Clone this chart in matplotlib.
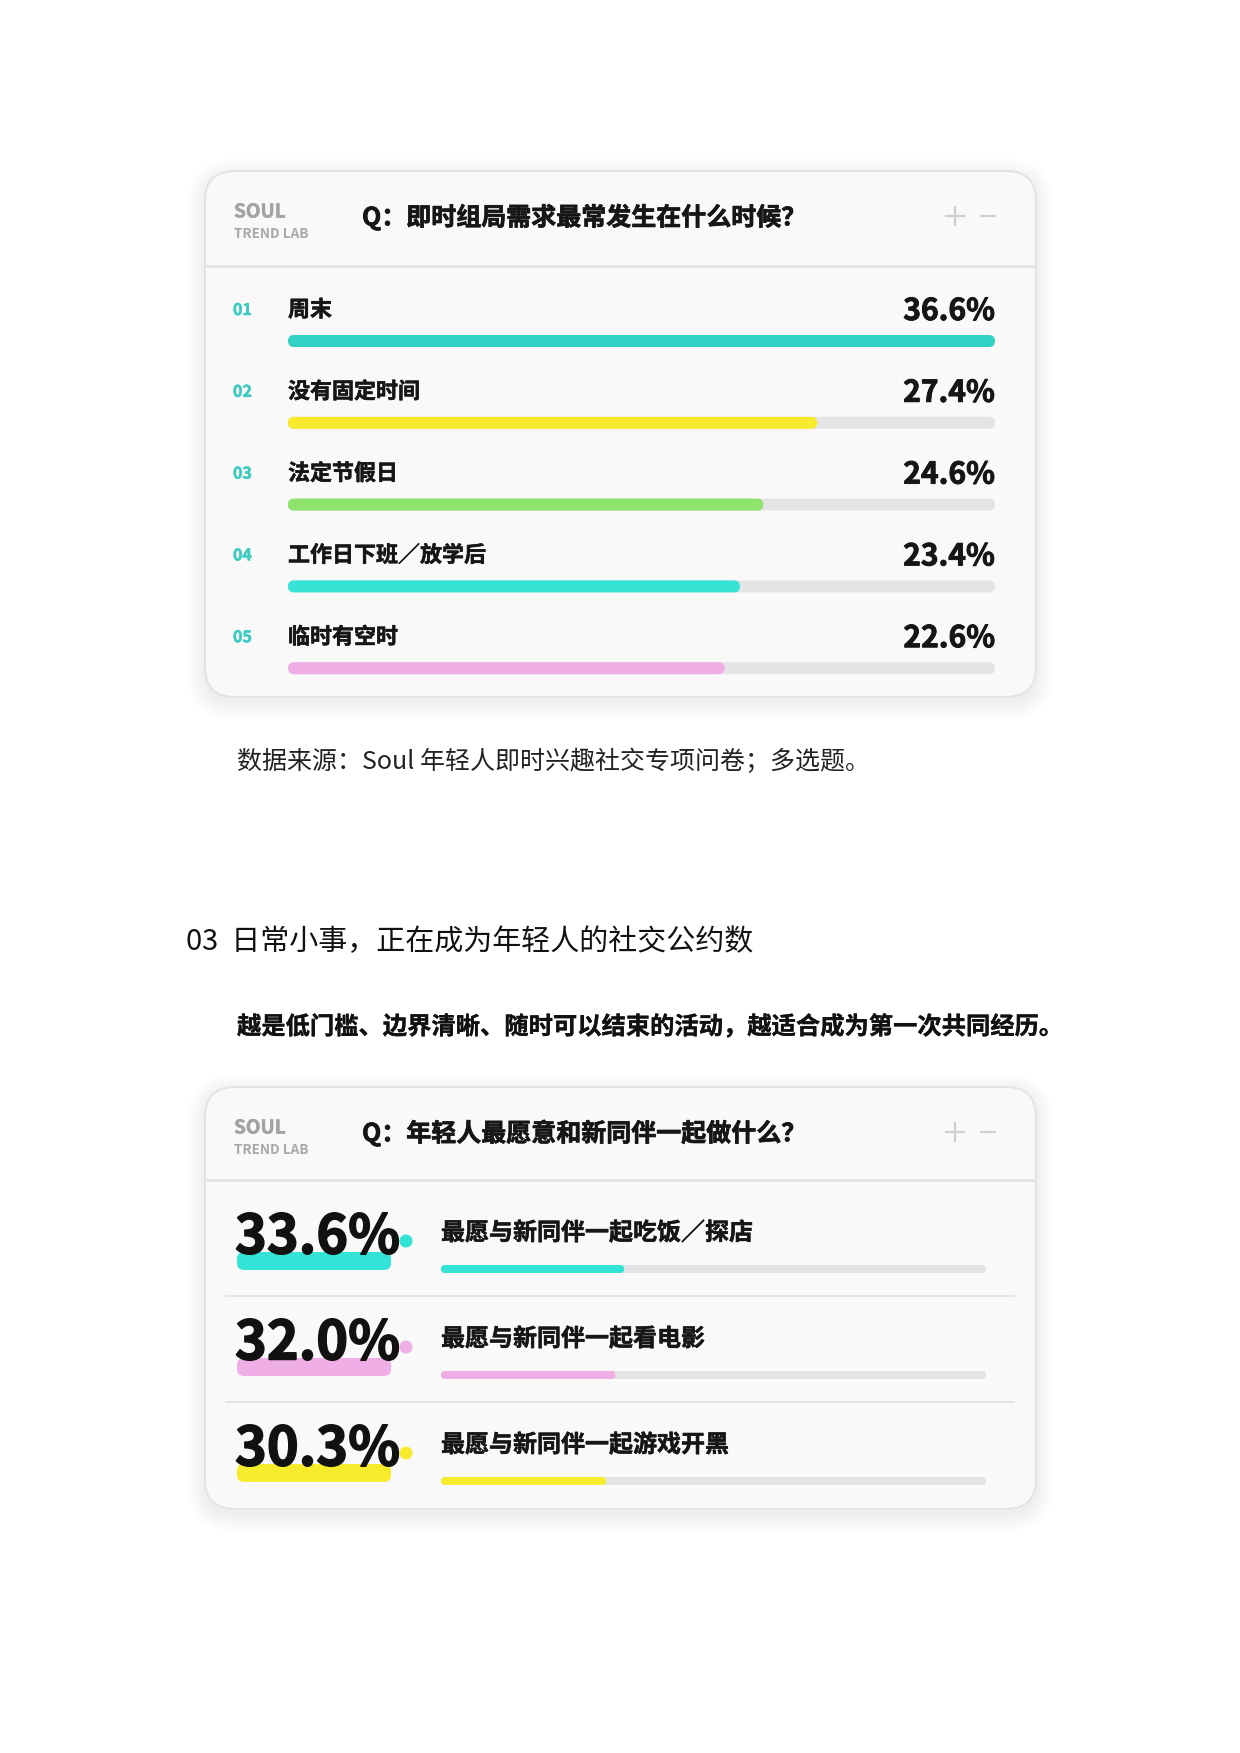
import matplotlib
matplotlib.use("Agg")
import matplotlib.pyplot as plt
import matplotlib.patheffects as pe
from matplotlib.patches import FancyBboxPatch, Circle

plt.rcParams['font.family'] = ['Noto Sans CJK SC', 'DejaVu Sans']

# ---------------- data ----------------
q1_title = "Q：即时组局需求最常发生在什么时候？"
q1_ranks = ["01", "02", "03", "04", "05"]
q1_labels = ["周末", "没有固定时间", "法定节假日", "工作日下班／放学后", "临时有空时"]
q1_values = [36.6, 27.4, 24.6, 23.4, 22.6]
q1_colors = ["#33d1c4", "#f7e92c", "#8ee46a", "#36e3d4", "#f0aee6"]

source_text = "数据来源：Soul 年轻人即时兴趣社交专项问卷；多选题。"
section_title = "03  日常小事，正在成为年轻人的社交公约数"
section_sub = "越是低门槛、边界清晰、随时可以结束的活动，越适合成为第一次共同经历。"

q2_title = "Q：年轻人最愿意和新同伴一起做什么？"
q2_labels = ["最愿与新同伴一起吃饭／探店", "最愿与新同伴一起看电影", "最愿与新同伴一起游戏开黑"]
q2_values = [33.6, 32.0, 30.3]
q2_colors = ["#33e3d5", "#f0aee6", "#f7ec2c"]

# ---------------- figure ----------------
W, H = 1240, 1753
fig = plt.figure(figsize=(W / 72, H / 72), dpi=72)
ax = fig.add_axes([0, 0, 1, 1])
ax.set_xlim(0, W)
ax.set_ylim(H, 0)
ax.axis("off")
fig.patch.set_facecolor("white")

CARD_BG = "#f9f9fa"
CARD_EDGE = "#e3e3e5"
TRACK = "#e4e4e6"
DARK = "#161616"
HEAVY = "heavy"


def thick(color, w):
    return [pe.withStroke(linewidth=w, foreground=color)]


def rbox(x, y, w, h, r, color, z=2, ec="none", lw=0, alpha=1.0):
    p = FancyBboxPatch((x, y), w, h, boxstyle=f"round,pad=0,rounding_size={r}",
                       fc=color, ec=ec, lw=lw, zorder=z, alpha=alpha,
                       mutation_aspect=1)
    ax.add_patch(p)
    return p


def card(x0, y0, x1, y1, title, header_line_y):
    # soft shadow
    for i in range(8):
        pad = 2 + i * 2.2
        rbox(x0 - pad, y0 - pad + 5, (x1 - x0) + 2 * pad, (y1 - y0) + 2 * pad,
             30 + pad, "#000000", z=1, alpha=0.009)
    rbox(x0, y0, x1 - x0, y1 - y0, 30, CARD_BG, z=2, ec=CARD_EDGE, lw=2)
    ax.plot([x0 + 1, x1 - 1], [header_line_y, header_line_y], color="#e2e2e4",
            lw=2.5, zorder=3, solid_capstyle="butt")
    hy = y0 + 40
    ax.text(x0 + 29, hy + 1, "SOUL", fontsize=19, fontweight="bold",
            color="#a3a3a6", va="center", ha="left", zorder=4,
            path_effects=thick("#a3a3a6", 0.5))
    ax.text(x0 + 29, hy + 23, "TREND LAB", fontsize=13.5, fontweight="bold",
            color="#a8a8ab", va="center", ha="left", zorder=4)
    ax.text(x0 + 157, hy + 6, title, fontsize=25, fontweight=HEAVY,
            color=DARK, va="center", ha="left", zorder=4,
            path_effects=thick(DARK, 0.7))
    # plus / minus icons
    px, py = x0 + 750, hy + 5
    ax.plot([px - 9, px + 9], [py, py], color="#cfcfd2", lw=2.2, zorder=4)
    ax.plot([px, px], [py - 9, py + 9], color="#cfcfd2", lw=2.2, zorder=4)
    mx = x0 + 783
    ax.plot([mx - 7, mx + 7], [py, py], color="#cfcfd2", lw=2.2, zorder=4)


# ---------------- card 1 ----------------
c1 = (205, 171, 1036, 697)
card(*c1, q1_title, 266)
bar_x0, bar_x1 = 288, 995
bar_w = bar_x1 - bar_x0
vmax = max(q1_values)
row0, step = 307, 81.8
for i, (rk, lab, val, col) in enumerate(zip(q1_ranks, q1_labels, q1_values, q1_colors)):
    ty = row0 + i * step
    by = ty + 34
    ax.text(233, ty + 3, rk, fontsize=16, fontweight=HEAVY, color="#3ccbc0",
            va="center", ha="left", zorder=4, path_effects=thick("#3ccbc0", 0.5))
    ax.text(bar_x0, ty + 3, lab, fontsize=22, fontweight=HEAVY, color=DARK,
            va="center", ha="left", zorder=4, path_effects=thick(DARK, 0.5))
    ax.text(bar_x1, ty + 4, f"{val:.1f}%", fontsize=30, fontweight=HEAVY, color=DARK,
            va="center", ha="right", zorder=4, path_effects=thick(DARK, 0.9))
    bh = 12
    rbox(bar_x0, by - bh / 2, bar_w, bh, bh / 2, TRACK, z=3)
    rbox(bar_x0, by - bh / 2, bar_w * val / vmax, bh, bh / 2, col, z=4)

# ---------------- text between ----------------
ax.text(237, 762, source_text, fontsize=25, color="#222222", va="center", ha="left")
ax.text(186, 942, section_title, fontsize=29, color="#111111", va="center", ha="left")
ax.text(237, 1027, section_sub, fontsize=24.3, fontweight="bold", color="#111111",
        va="center", ha="left", path_effects=thick("#111111", 0.3))

# ---------------- card 2 ----------------
c2 = (205, 1087, 1036, 1509)
card(*c2, q2_title, 1180)
b2_x0, b2_x1 = 441, 986
b2_w = b2_x1 - b2_x0
r0, step2 = 1236, 106
for i, (lab, val, col) in enumerate(zip(q2_labels, q2_values, q2_colors)):
    ny = r0 + i * step2
    # highlight under number
    rbox(237, ny + 16, 154, 18, 7, col, z=3)
    ax.text(235, ny + 2, f"{val:.1f}%", fontsize=54, fontweight=HEAVY, color="#111111",
            va="center", ha="left", zorder=5, path_effects=thick("#111111", 1.5))
    ax.add_patch(Circle((406, ny + 5), 6, color=col, zorder=5))
    ax.text(b2_x0, ny - 3, lab, fontsize=24, fontweight=HEAVY, color=DARK,
            va="center", ha="left", zorder=4, path_effects=thick(DARK, 0.5))
    by = ny + 33
    bh = 8
    rbox(b2_x0, by - bh / 2, b2_w, bh, bh / 2, TRACK, z=3)
    rbox(b2_x0, by - bh / 2, b2_w * val / 100.0, bh, bh / 2, col, z=4)
    if i < len(q2_values) - 1:
        sy = ny + 60
        ax.plot([226, 1014], [sy, sy], color="#dedee0", lw=1.5, zorder=3)

fig.savefig("out.png", dpi=72, facecolor="white")
